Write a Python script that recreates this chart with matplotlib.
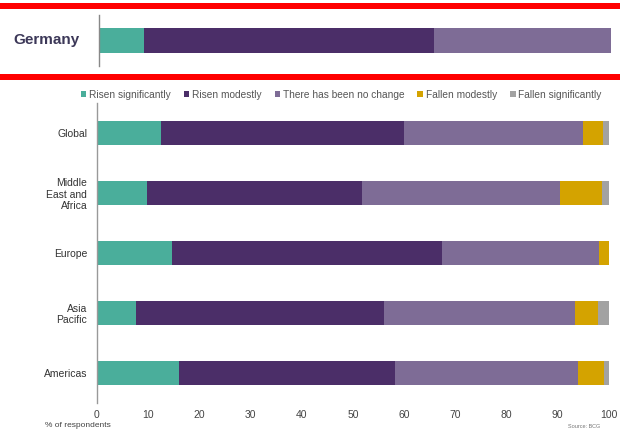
import matplotlib
matplotlib.use("Agg")
import matplotlib.pyplot as plt
import numpy as np

plt.rcParams['font.family'] = ['Liberation Sans', 'DejaVu Sans']

# answer categories (legend order)
categories = ['Risen significantly', 'Risen modestly', 'There has been no change',
              'Fallen modestly', 'Fallen significantly']
colors = ['#4aae9b', '#4b2e68', '#7e6c96', '#d4a300', '#a2a2a2']

# regions, top to bottom
regions = ['Global', 'Middle\nEast and\nAfrica', 'Europe', 'Asia\nPacific', 'Americas']
risen_sig = [12.5, 9.7, 14.6, 7.6, 16.0]
risen_mod = [47.5, 42.1, 52.8, 48.5, 42.2]
no_change = [34.9, 38.7, 30.7, 37.3, 35.8]
fallen_mod = [4.0, 8.1, 1.9, 4.4, 5.0]
fallen_sig = [1.1, 1.4, 0.0, 2.2, 1.0]

# Germany panel
germany = [8.8, 56.6, 34.6]

W, H = 620, 430
fig = plt.figure(figsize=(W / 100, H / 100), dpi=100)

def fx(px):
    return px / W

def fy(py):
    return 1 - py / H

# red frame lines of the top panel
for y0, y1 in [(3, 8.5), (74, 79.5)]:
    fig.add_artist(plt.Rectangle((0, fy(y1)), 1, (y1 - y0) / H,
                                 transform=fig.transFigure, color='#ff0000', lw=0))

# --- Germany panel ---
axg = fig.add_axes([fx(99), fy(66), fx(512), (66 - 15) / H])
left = 0
for v, c in zip(germany, colors):
    axg.barh(0, v, left=left, height=1.0, color=c, lw=0)
    left += v
axg.set_xlim(0, 100)
axg.set_ylim(-1, 1)
axg.set_xticks([])
axg.set_yticks([])
for s in ['top', 'right', 'bottom']:
    axg.spines[s].set_visible(False)
axg.spines['left'].set_color('#888888')
axg.spines['left'].set_linewidth(1)
fig.text(fx(47), fy(40), 'Germany', ha='center', va='center',
         fontsize=11, fontweight='bold', color='#3c3858')

# --- regional chart ---
ax = fig.add_axes([fx(97), fy(403), fx(512), 300 / H])
series = [risen_sig, risen_mod, no_change, fallen_mod, fallen_sig]
y = np.arange(len(regions))
left = np.zeros(len(regions))
for vals, c, lab in zip(series, colors, categories):
    vals = np.array(vals)
    ax.barh(y, vals, left=left, height=0.4, color=c, lw=0, label=lab)
    left += vals
ax.set_xlim(0, 100)
ax.set_ylim(4.5, -0.5)
ax.set_yticks(y)
ax.set_yticklabels(regions, fontsize=7.5, color='#333333', linespacing=1.15)
ax.set_xticks(np.arange(0, 101, 10))
ax.tick_params(axis='x', length=0, pad=5, labelsize=7.5, labelcolor='#444444')
ax.tick_params(axis='y', length=0, pad=7)
for s in ['top', 'right', 'bottom']:
    ax.spines[s].set_visible(False)
ax.spines['left'].set_color('#999999')
ax.spines['left'].set_linewidth(1)

fig.legend(loc='center', bbox_to_anchor=(fx(341), fy(95)), ncol=5, frameon=False,
           fontsize=7.3, labelcolor='#555555', handlelength=0.55, handleheight=0.55,
           handletextpad=0.25, columnspacing=1.3, borderpad=0)

fig.text(fx(45), fy(425.5), '% of respondents', ha='left', va='center',
         fontsize=6, color='#444444')
fig.text(fx(568), fy(426), 'Source: BCG', ha='left', va='center',
         fontsize=4, color='#777777')

fig.savefig('out.png', dpi=100)
